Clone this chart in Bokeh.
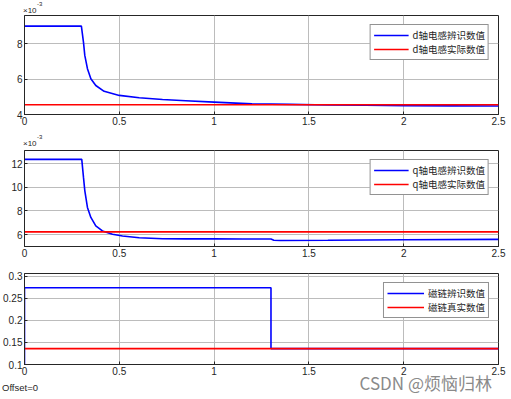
from bokeh.plotting import figure
from bokeh.layouts import column
from bokeh.models import (Range1d, FixedTicker, CustomJSTickFormatter,
                          Legend, LegendItem, Div)
from bokeh.embed import file_html
from bokeh.resources import INLINE

# ---------------- data ----------------
# d-axis inductance (x1e-3 H)
t_d = [0, 0.300, 0.311, 0.318, 0.332, 0.350, 0.376, 0.420, 0.500, 0.605, 0.728,
       0.850, 1.000, 1.200, 1.400, 1.600, 1.800, 2.000, 2.250, 2.500]
Ld_est = [9.00, 9.00, 8.09, 7.34, 6.59, 6.02, 5.64, 5.31, 5.08, 4.95, 4.85,
          4.78, 4.70, 4.60, 4.57, 4.54, 4.52, 4.50, 4.49, 4.48]
t_dref = [0, 2.5]
Ld_true = [4.55, 4.55]

# q-axis inductance (x1e-3 H)
t_q = [0, 0.302, 0.311, 0.318, 0.332, 0.350, 0.376, 0.411, 0.464, 0.517, 0.605,
       0.728, 0.850, 1.000, 1.150, 1.300, 1.315, 1.350, 1.600, 2.000, 2.500]
Lq_est = [12.35, 12.35, 10.85, 9.72, 8.30, 7.45, 6.74, 6.31, 6.03, 5.89, 5.74,
          5.66, 5.64, 5.64, 5.63, 5.63, 5.53, 5.51, 5.53, 5.57, 5.60]
t_qref = [0, 2.5]
Lq_true = [6.23, 6.23]

# flux linkage (Wb)
t_f = [0, 0, 1.3, 1.3, 2.5]
psi_est = [0.0, 0.2736, 0.2736, 0.136, 0.136]
t_fref = [0, 2.5]
psi_true = [0.136, 0.136]

x_ticks = [0, 0.5, 1, 1.5, 2, 2.5]
y1_ticks = [4, 6, 8]
y2_ticks = [6, 8, 10, 12]
y3_ticks = [0.1, 0.15, 0.2, 0.25, 0.3]

legend1 = ["d轴电感辨识数值", "d轴电感实际数值"]
legend2 = ["q轴电感辨识数值", "q轴电感实际数值"]
legend3 = ["磁链辨识数值", "磁链真实数值"]
exp_text = ["×10", "-3"]
offset_text = "Offset=0"
watermark = "CSDN @烦恼归林"

BLUE = "#0000ff"
RED = "#ff0000"
AX = "#262626"
GRID = "#bcbcbc"
FONT = "Liberation Sans"
CJK = "Noto Sans CJK SC"
W = 511

fmt = CustomJSTickFormatter(code="return String(Math.round(tick*1000)/1000)")


def make(yr, yticks, top, fh, bottom):
    p = figure(output_backend="svg", toolbar_location=None,
               frame_width=474, frame_height=fh,
               min_border_left=22, min_border_right=15,
               min_border_top=top, min_border_bottom=bottom,
               x_range=Range1d(0, 2.5), y_range=Range1d(*yr),
               background_fill_color="white", border_fill_color="white",
               outline_line_color=AX, outline_line_width=1)
    for ax, ticks in ((p.xaxis[0], x_ticks), (p.yaxis[0], yticks)):
        ax.ticker = FixedTicker(ticks=ticks)
        ax.formatter = fmt
        ax.major_tick_in = 3
        ax.major_tick_out = 0
        ax.minor_tick_line_color = None
        ax.axis_line_color = AX
        ax.major_tick_line_color = AX
        ax.major_label_text_font = FONT
        ax.major_label_text_font_size = "10px"
        ax.major_label_text_color = AX
        ax.major_label_standoff = 2
    p.grid.grid_line_color = GRID
    p.grid.grid_line_width = 1
    return p


def span(text, left, top, size, font, color, extra=""):
    return (f'<span style="position:absolute;left:{left}px;top:{top}px;'
            f'font-family:\'{font}\';font-size:{size}px;line-height:{size}px;'
            f'color:{color};white-space:nowrap;{extra}">{text}</span>')


def strip(h, inner):
    html = (f'<div style="position:relative;width:{W}px;height:{h}px;'
            f'overflow:visible;margin:0;padding:0">{inner}</div>')
    return Div(text=html, width=W, height=h, margin=(0, 0, 0, 0),
               styles={"overflow": "visible", "z-index": "5"})


def exponent_html(base):
    # base = baseline y of the "×10" part inside the strip
    return (span(exp_text[0], 23, base - 7, 8, FONT, AX)
            + span(exp_text[1], 37, base - 13, 6, FONT, AX))


def add_legend(p, items, labels, glyph_w):
    leg = Legend(items=[LegendItem(label=labels[0], renderers=[items[0]]),
                        LegendItem(label=labels[1], renderers=[items[1]])],
                 location="top_right", margin=9, padding=3, spacing=0,
                 label_text_font=CJK, label_text_font_size="9.5px",
                 label_text_color=AX, label_height=10, glyph_height=10,
                 glyph_width=glyph_w, label_standoff=4,
                 border_line_color=AX, border_line_width=1,
                 background_fill_color="white", background_fill_alpha=1)
    p.add_layout(leg, "center")


# ---- strip above plot 1 ----
s1 = strip(14, exponent_html(14))

# ---- plot 1 ----
p1 = make((4, 9.6), y1_ticks, 1, 99, 14)
b1 = p1.line(t_d, Ld_est, line_color=BLUE, line_width=1.6)
r1 = p1.line(t_dref, Ld_true, line_color=RED, line_width=1.6)
add_legend(p1, [b1, r1], legend1, 35)

# ---- strip above plot 2 ----
s2 = strip(21, exponent_html(19.3))

# ---- plot 2 ----
p2 = make((5, 13.1), y2_ticks, 1, 96, 14)
b2 = p2.line(t_q, Lq_est, line_color=BLUE, line_width=1.6)
r2 = p2.line(t_qref, Lq_true, line_color=RED, line_width=1.6)
add_legend(p2, [b2, r2], legend2, 35)

# ---- plot 3 ----
p3 = make((0.1, 0.306), y3_ticks, 13, 91, 14)
b3 = p3.line(t_f, psi_est, line_color=BLUE, line_width=1.6)
r3 = p3.line(t_fref, psi_true, line_color=RED, line_width=1.6)
add_legend(p3, [b3, r3], legend3, 37)

# ---- bottom strip ----
s4 = strip(21, span(offset_text, 2, 5, 9.5, FONT, AX)
           + span(watermark, 0, -4.5, 17, CJK, "#8a8a8a",
                  "left:auto;right:19px;"))

layout = column(s1, p1, s2, p2, p3, s4, spacing=0)

open("out.html", "w").write(file_html(layout, INLINE))
